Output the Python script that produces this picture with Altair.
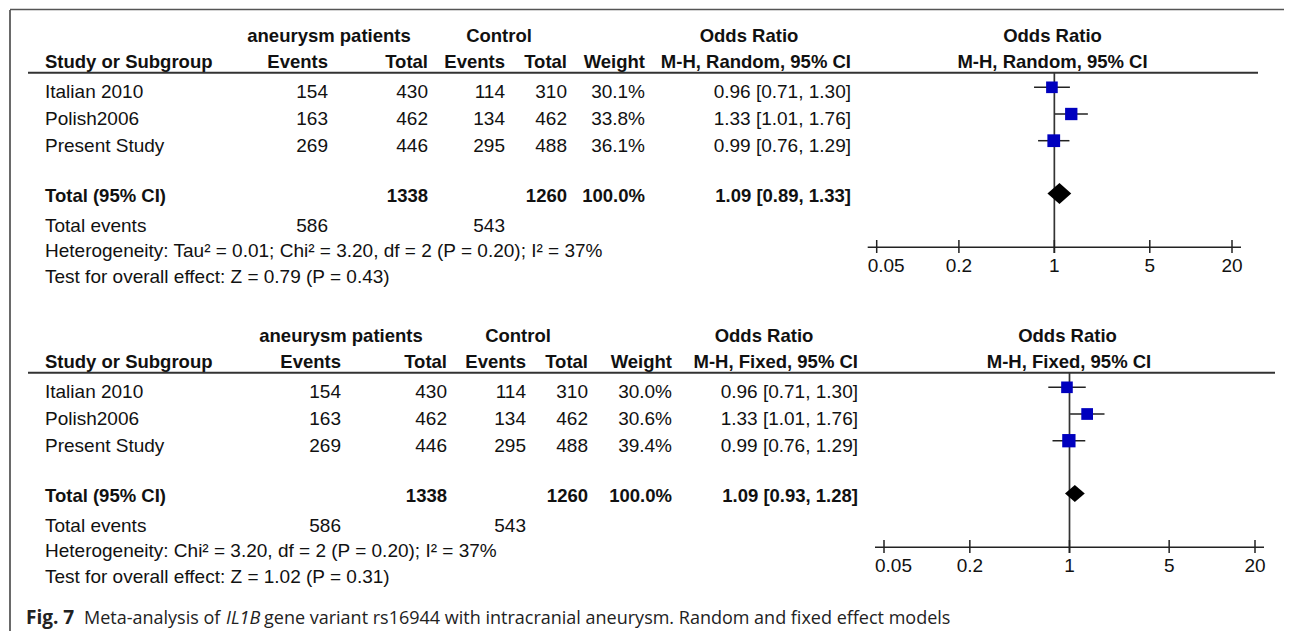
import altair as alt
import pandas as pd

# ---------------- data ----------------
studies = ["Italian 2010", "Polish2006", "Present Study"]
exp_events = [154, 163, 269]
exp_total = [430, 462, 446]
ctl_events = [114, 134, 295]
ctl_total = [310, 462, 488]
or_est = [0.96, 1.33, 0.99]
or_lo = [0.71, 1.01, 0.76]
or_hi = [1.30, 1.76, 1.29]
models = ["Random", "Fixed"]
weights_random = [30.1, 33.8, 36.1]
weights_fixed = [30.0, 30.6, 39.4]
pooled_random = [1.09, 0.89, 1.33]
pooled_fixed = [1.09, 0.93, 1.28]
het_random = "Heterogeneity: Tau² = 0.01; Chi² = 3.20, df = 2 (P = 0.20); I² = 37%"
het_fixed = "Heterogeneity: Chi² = 3.20, df = 2 (P = 0.20); I² = 37%"
test_random = "Test for overall effect: Z = 0.79 (P = 0.43)"
test_fixed = "Test for overall effect: Z = 1.02 (P = 0.31)"
axis_ticks = [0.05, 0.2, 1, 5, 20]
caption_parts = ["Fig. 7", "Meta-analysis of", "IL1B",
                 "gene variant rs16944 with intracranial aneurysm. Random and fixed effect models"]

weights = {"Random": weights_random, "Fixed": weights_fixed}
pooled = {"Random": pooled_random, "Fixed": pooled_fixed}
het = {"Random": het_random, "Fixed": het_fixed}
test = {"Random": test_random, "Fixed": test_fixed}

# ---------------- layout ----------------
W, H = 1276, 623
M = 8


def P(v):
    return float(v - M)


FONT = "Liberation Sans"
FS_BOLD = 18.5
FS_REG = 19
INK = "#111111"
YS = alt.Scale(domain=[0, H], range=[0, H])

panel_dy = {"Random": 0, "Fixed": 300}
cols = {
    "Random": dict(study=45, ev1=328, tot1=428, ev2=505, tot2=567, wt=645, orc=851,
                   g1=329, g2=499, g3=749, fc=1052.5, fc2=1052.5, xr=(876.7, 1232),
                   line_end=1258, dh=10.5),
    "Fixed": dict(study=45, ev1=341, tot1=447, ev2=526, tot2=588, wt=672, orc=858,
                  g1=341, g2=518, g3=764, fc=1067.5, fc2=1069, xr=(884, 1255),
                  line_end=1275, dh=8.5),
}
R = dict(h1=41.5, h2=68.3, line=72.7, rows=[98.3, 125, 151.7], total=201.7, ev=231.7,
         het=256.7, test=283.3, axis=247.3, tick_top=240, tick_bot=253, lab=271.7)
MARK_OFF = 11
DIA_OFF = 8.3

one = pd.DataFrame({"k": [0]})
layers = []


def text_layers(entries, font=FONT, color=INK):
    df = pd.DataFrame(entries)
    out = []
    for (x, align, weight), g in df.groupby(["x", "align", "weight"], sort=False):
        size = FS_BOLD if weight == "bold" else FS_REG
        out.append(
            alt.Chart(g[["y", "t"]].reset_index(drop=True))
            .mark_text(align=align, baseline="alphabetic", font=font, fontSize=size,
                       fontWeight=weight, color=color)
            .encode(x=alt.value(float(x)), y=alt.Y("y:Q", scale=YS, axis=None), text="t:N")
        )
    return out


entries = []


def add(x, align, y, t, bold=False):
    entries.append(dict(x=P(x), align=align, weight="bold" if bold else "normal",
                        y=P(y), t=str(t)))


for model in models:
    dy = panel_dy[model]
    c = cols[model]
    # group headers
    add(c["g1"], "center", dy + R["h1"], "aneurysm patients", True)
    add(c["g2"], "center", dy + R["h1"], "Control", True)
    add(c["g3"], "center", dy + R["h1"], "Odds Ratio", True)
    add(c["fc"], "center", dy + R["h1"], "Odds Ratio", True)
    # column headers
    add(c["study"], "left", dy + R["h2"], "Study or Subgroup", True)
    add(c["ev1"], "right", dy + R["h2"], "Events", True)
    add(c["tot1"], "right", dy + R["h2"], "Total", True)
    add(c["ev2"], "right", dy + R["h2"], "Events", True)
    add(c["tot2"], "right", dy + R["h2"], "Total", True)
    add(c["wt"], "right", dy + R["h2"], "Weight", True)
    add(c["orc"], "right", dy + R["h2"], f"M-H, {model}, 95% CI", True)
    add(c["fc2"], "center", dy + R["h2"], f"M-H, {model}, 95% CI", True)
    # study rows
    for i, s in enumerate(studies):
        y = dy + R["rows"][i]
        add(c["study"], "left", y, s)
        add(c["ev1"], "right", y, exp_events[i])
        add(c["tot1"], "right", y, exp_total[i])
        add(c["ev2"], "right", y, ctl_events[i])
        add(c["tot2"], "right", y, ctl_total[i])
        add(c["wt"], "right", y, f"{weights[model][i]:.1f}%")
        add(c["orc"], "right", y, f"{or_est[i]:.2f} [{or_lo[i]:.2f}, {or_hi[i]:.2f}]")
    # total row
    pe, pl, ph = pooled[model]
    y = dy + R["total"]
    add(c["study"], "left", y, "Total (95% CI)", True)
    add(c["tot1"], "right", y, sum(exp_total), True)
    add(c["tot2"], "right", y, sum(ctl_total), True)
    add(c["wt"], "right", y, "100.0%", True)
    add(c["orc"], "right", y, f"{pe:.2f} [{pl:.2f}, {ph:.2f}]", True)
    # total events
    y = dy + R["ev"]
    add(c["study"], "left", y, "Total events")
    add(c["ev1"], "right", y, sum(exp_events))
    add(c["ev2"], "right", y, sum(ctl_events))
    add(c["study"], "left", dy + R["het"], het[model])
    add(c["study"], "left", dy + R["test"], test[model])

layers += text_layers(entries)

# ---------------- forest plots ----------------
for model in models:
    dy = panel_dy[model]
    c = cols[model]
    x0, x1 = P(c["xr"][0]), P(c["xr"][1])
    xs = alt.Scale(type="log", domain=[axis_ticks[0], axis_ticks[-1]], range=[x0, x1])

    # header rule
    layers.append(alt.Chart(one).mark_rule(color="#333333", strokeWidth=2).encode(
        x=alt.value(P(28)), x2=alt.value(P(c["line_end"])), y=alt.value(P(dy + R["line"]))))

    # line of no effect
    nd = pd.DataFrame({"x": [1.0], "y": [P(dy + R["line"])], "y2": [P(dy + R["tick_bot"])]})
    layers.append(alt.Chart(nd).mark_rule(color="#333333", strokeWidth=1.7).encode(
        x=alt.X("x:Q", scale=xs, axis=None), y=alt.Y("y:Q", scale=YS, axis=None), y2="y2:Q"))

    # CI lines
    ci = pd.DataFrame({"lo": or_lo, "hi": or_hi,
                       "y": [P(dy + b - MARK_OFF) for b in R["rows"]]})
    layers.append(alt.Chart(ci).mark_rule(color="#222222", strokeWidth=1.5).encode(
        x=alt.X("lo:Q", scale=xs, axis=None), x2="hi:Q", y=alt.Y("y:Q", scale=YS, axis=None)))

    # squares
    sq = pd.DataFrame({"est": or_est, "w": weights[model],
                       "y": [P(dy + b - MARK_OFF) for b in R["rows"]]})
    layers.append(alt.Chart(sq).mark_square(filled=True, color="#0000BE", opacity=1).encode(
        x=alt.X("est:Q", scale=xs, axis=None), y=alt.Y("y:Q", scale=YS, axis=None),
        size=alt.Size("w:Q", scale=alt.Scale(domain=[0, 100], range=[0, 450]), legend=None)))

    # diamond
    pe, pl, ph = pooled[model]
    cy = P(dy + R["total"] - DIA_OFF)
    h = c["dh"]
    dd = pd.DataFrame({"x": [pl, pe, ph], "y": [cy, cy - h, cy], "y2": [cy, cy + h, cy]})
    layers.append(alt.Chart(dd).mark_area(color="black", opacity=1, orient="vertical").encode(
        x=alt.X("x:Q", scale=xs, axis=None), y=alt.Y("y:Q", scale=YS, axis=None), y2="y2:Q"))

    # axis line
    layers.append(alt.Chart(one).mark_rule(color="#222222", strokeWidth=1.5).encode(
        x=alt.value(x0 - 9), x2=alt.value(x1 + 9), y=alt.value(P(dy + R["axis"]))))

    # ticks
    tk = pd.DataFrame({"v": axis_ticks, "t": [f"{v:g}" for v in axis_ticks]})
    layers.append(alt.Chart(tk).mark_rule(color="#222222", strokeWidth=1.5).encode(
        x=alt.X("v:Q", scale=xs, axis=None), y=alt.value(P(dy + R["tick_top"])),
        y2=alt.value(P(dy + R["tick_bot"]))))

    # tick labels
    first = tk.iloc[:1]
    rest = tk.iloc[1:]
    layers.append(alt.Chart(first).mark_text(align="left", dx=-9, baseline="alphabetic", font=FONT,
                                             fontSize=FS_REG, color=INK).encode(
        x=alt.X("v:Q", scale=xs, axis=None), y=alt.value(P(dy + R["lab"])), text="t:N"))
    layers.append(alt.Chart(rest).mark_text(align="center", baseline="alphabetic", font=FONT,
                                            fontSize=FS_REG, color=INK).encode(
        x=alt.X("v:Q", scale=xs, axis=None), y=alt.value(P(dy + R["lab"])), text="t:N"))

# ---------------- frame ----------------
layers.append(alt.Chart(one).mark_rule(color="#444444", strokeWidth=1.6).encode(
    x=alt.value(P(10)), y=alt.value(P(10)), y2=alt.value(H + 5)))
layers.append(alt.Chart(one).mark_rule(color="#555555", strokeWidth=1.4).encode(
    x=alt.value(P(10)), x2=alt.value(W + 5), y=alt.value(P(9.5))))

# ---------------- caption ----------------
cap_x = [26, 84, 226, 264]
cap_w = ["bold", "normal", "normal", "normal"]
cap_s = ["normal", "normal", "italic", "normal"]
cap_fs = [19, 18, 18, 18]
for i, part in enumerate(caption_parts):
    layers.append(alt.Chart(pd.DataFrame({"t": [part]})).mark_text(
        align="left", baseline="alphabetic", font="Open Sans", fontSize=cap_fs[i],
        fontWeight=cap_w[i], fontStyle=cap_s[i], color="#222222").encode(
        x=alt.value(P(cap_x[i])), y=alt.value(P(624)), text="t:N"))

chart = (
    alt.layer(*layers)
    .resolve_scale(x="independent")
    .properties(width=W, height=H, autosize=alt.AutoSizeParams(type="none"), padding=0,
                background="white")
    .configure_view(strokeWidth=0)
)
chart.save("out.html", embed_options={"renderer": "svg", "actions": False})
